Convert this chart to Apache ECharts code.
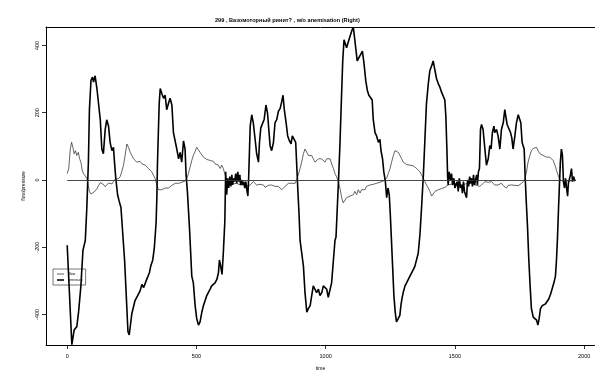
<!DOCTYPE html>
<html>
<head>
<meta charset="utf-8">
<script src="https://cdn.jsdelivr.net/npm/echarts/dist/echarts.min.js"></script>
<style>
  html, body { margin: 0; padding: 0; background: #fff; }
  #chart { width: 595px; height: 376px; }
</style>
</head>
<body>
<div id="chart"></div>
<script>
// [time, value]
const pressure = [
  [0,-194],[18,-490],[27,-446],[37,-437],[44,-393],[53,-315],[61,-209],[70,-180],[76,-82],[82,53],
  [86,209],[92,296],[98,306],[102,291],[108,310],[115,272],[121,267],[128,179],[134,92],[140,78],
  [147,150],[153,179],[160,160],[166,112],[173,87],[179,97],[183,53],[188,5],[195,-44],[201,-63],
  [208,-82],[215,-160],[222,-238],[228,-335],[235,-451],[240,-461],[250,-398],[262,-360],[269,-349],[282,-330],
  [289,-311],[296,-320],[305,-301],[318,-276],[323,-257],[331,-238],[337,-203],[344,-126],[347,-49],[349,40],
  [353,150],[356,228],[360,272],[366,257],[373,243],[379,252],[385,209],[392,228],[398,243],[405,223],
  [411,141],[418,141],[424,92],[431,63],[437,82],[443,53],[450,116],[456,92],[460,15],[465,-34],
  [473,-141],[482,-286],[488,-306],[495,-374],[501,-412],[508,-432],[514,-422],[521,-393],[527,-374],[533,-369],
  [540,-344],[546,-335],[553,-325],[559,-315],[566,-320],[572,-306],[579,-296],[585,-277],[589,-238],[594,-257],
  [599,-281],[604,-218],[610,-121],[613,24],[617,-44],[621,5],[625,-24],[629,10],[633,-19],[637,15],
  [640,-15],[644,5],[648,-5],[652,19],[656,-10],[660,24],[664,-5],[668,15],[671,-15],[675,0],
  [679,-15],[683,-5],[687,-24],[691,-5],[695,-29],[699,-48],[702,5],[708,160],[714,194],[720,170],
  [727,121],[733,78],[740,53],[744,112],[749,155],[755,150],[762,180],[769,223],[775,199],[780,150],
  [785,102],[791,87],[798,112],[804,170],[811,180],[817,204],[824,213],[830,233],[835,252],[840,209],
  [847,170],[853,131],[860,116],[866,107],[871,131],[878,136],[884,112],[888,44],[892,-24],[897,-102],
  [901,-180],[907,-184],[914,-257],[920,-335],[927,-393],[933,-383],[940,-374],[946,-344],[952,-315],[959,-310],
  [965,-335],[972,-325],[978,-344],[985,-335],[991,-315],[998,-310],[1004,-325],[1010,-349],[1017,-344],[1023,-306],
  [1030,-238],[1036,-180],[1040,-170],[1045,-82],[1050,5],[1055,102],[1060,218],[1066,354],[1071,417],[1076,422],
  [1081,393],[1088,412],[1094,427],[1102,446],[1107,454],[1112,422],[1117,388],[1122,354],[1129,349],[1135,373],
  [1142,383],[1148,349],[1155,296],[1161,267],[1167,252],[1174,257],[1180,238],[1184,180],[1191,141],[1197,131],
  [1204,112],[1210,121],[1214,87],[1220,63],[1225,24],[1231,-5],[1236,-53],[1241,-24],[1246,-44],[1250,-102],
  [1254,-170],[1259,-257],[1264,-344],[1269,-393],[1274,-422],[1281,-412],[1287,-403],[1291,-374],[1295,-354],[1300,-335],
  [1307,-315],[1313,-306],[1320,-301],[1326,-286],[1332,-281],[1339,-267],[1345,-257],[1352,-252],[1358,-218],[1365,-160],
  [1371,-82],[1378,15],[1384,121],[1390,228],[1397,286],[1403,325],[1410,340],[1416,354],[1423,325],[1429,301],
  [1436,286],[1442,276],[1448,262],[1455,257],[1461,238],[1465,189],[1469,92],[1472,5],[1474,-15],[1478,24],
  [1483,0],[1487,19],[1491,-15],[1496,5],[1500,-24],[1504,-24],[1509,-5],[1513,-34],[1517,5],[1522,-24],
  [1526,-15],[1529,-39],[1533,-5],[1537,-34],[1541,-44],[1545,-53],[1549,0],[1553,-19],[1557,10],[1560,-10],
  [1564,5],[1568,-19],[1572,15],[1576,-15],[1580,0],[1584,15],[1587,-15],[1591,24],[1595,34],[1599,150],
  [1603,165],[1609,150],[1616,92],[1622,44],[1629,63],[1635,102],[1640,92],[1645,141],[1651,160],[1654,141],
  [1661,150],[1667,131],[1674,92],[1680,150],[1687,170],[1693,209],[1697,189],[1702,165],[1709,160],[1715,141],
  [1720,126],[1725,92],[1732,131],[1738,170],[1745,194],[1750,199],[1755,170],[1760,112],[1764,102],[1768,92],
  [1772,5],[1776,-63],[1781,-141],[1786,-238],[1791,-315],[1796,-383],[1803,-408],[1809,-403],[1816,-417],[1821,-432],
  [1826,-412],[1831,-383],[1838,-374],[1844,-379],[1850,-369],[1857,-374],[1863,-354],[1870,-340],[1876,-345],[1883,-306],
  [1889,-286],[1893,-238],[1897,-170],[1901,-82],[1905,-5],[1908,53],[1912,92],[1916,73],[1920,-5],[1924,-24],
  [1928,5],[1932,-24],[1936,-48],[1939,-10],[1943,-5],[1947,15],[1951,34],[1955,-5],[1959,10],[1963,0],[1966,-3]
];

const flow = [
  [0,19],[6,34],[12,92],[17,112],[22,97],[27,78],[32,87],[37,73],[43,82],[48,63],
  [53,53],[58,29],[63,19],[70,15],[76,5],[81,-15],[86,-34],[92,-42],[99,-40],[107,-34],
  [115,-26],[121,-17],[128,-8],[134,-5],[140,-13],[147,-20],[153,-16],[160,-9],[166,-5],[173,-12],
  [179,-5],[186,3],[192,2],[199,4],[205,10],[211,24],[218,44],[224,73],[231,107],[237,97],
  [244,82],[250,73],[257,63],[263,58],[269,53],[276,53],[282,55],[289,48],[295,53],[302,44],
  [308,39],[315,34],[321,29],[327,24],[334,19],[340,5],[347,-15],[353,-29],[360,-34],[366,-29],
  [373,-32],[379,-24],[385,-29],[392,-24],[398,-19],[405,-16],[411,-15],[418,-10],[424,-7],[431,-10],
  [437,-5],[443,-7],[450,-5],[456,-3],[463,5],[469,19],[476,40],[482,58],[488,73],[495,85],
  [501,97],[508,92],[514,82],[521,78],[527,68],[533,63],[540,61],[546,58],[553,58],[559,53],
  [566,55],[572,48],[579,48],[585,44],[592,34],[598,44],[604,34],[611,15],[617,0],[625,-8],
  [640,-12],[655,-10],[670,-15],[685,-12],[700,-18],[708,-15],[714,-10],[720,-5],[727,-10],[733,-15],
  [740,-19],[746,-13],[753,-10],[759,-15],[766,-22],[772,-24],[778,-16],[785,-13],[791,-15],[798,-19],
  [804,-19],[811,-15],[817,-19],[824,-24],[830,-29],[836,-24],[843,-19],[849,-15],[856,-10],[862,-13],
  [869,-10],[875,-12],[882,-10],[888,0],[894,15],[901,34],[907,53],[914,78],[920,92],[927,82],
  [933,73],[940,68],[946,73],[952,63],[959,53],[965,58],[972,63],[978,68],[984,63],[991,58],
  [997,53],[1004,63],[1010,68],[1017,63],[1023,48],[1030,34],[1036,19],[1042,10],[1049,-5],[1055,-24],
  [1062,-53],[1068,-68],[1075,-63],[1081,-53],[1088,-58],[1094,-48],[1100,-53],[1107,-44],[1113,-34],[1120,-44],
  [1126,-29],[1133,-39],[1139,-29],[1146,-24],[1152,-29],[1158,-19],[1165,-22],[1171,-15],[1178,-19],[1184,-13],
  [1191,-15],[1197,-10],[1204,-12],[1210,-7],[1216,-5],[1223,-3],[1229,-1],[1236,5],[1242,19],[1249,34],
  [1255,53],[1262,73],[1268,87],[1274,92],[1281,82],[1287,78],[1294,63],[1300,53],[1307,48],[1313,46],
  [1320,48],[1326,44],[1332,46],[1339,42],[1345,39],[1352,34],[1358,29],[1365,24],[1371,15],[1378,5],
  [1384,-5],[1390,-15],[1397,-24],[1403,-34],[1410,-48],[1416,-44],[1423,-34],[1429,-29],[1436,-29],[1442,-24],
  [1448,-26],[1455,-24],[1461,-22],[1468,-21],[1474,-15],[1481,-10],[1500,-10],[1520,-15],[1540,-12],[1560,-10],
  [1580,-15],[1595,-19],[1603,-15],[1609,-10],[1616,-5],[1622,-3],[1629,-7],[1635,-10],[1642,-5],[1648,-10],
  [1654,-15],[1661,-12],[1667,-15],[1674,-13],[1680,-10],[1687,-17],[1693,-21],[1700,-24],[1706,-16],[1712,-19],
  [1719,-15],[1725,-17],[1732,-16],[1738,-15],[1745,-17],[1751,-13],[1758,-10],[1764,-5],[1770,0],[1777,24],
  [1783,53],[1790,73],[1796,87],[1803,94],[1809,92],[1816,97],[1822,87],[1829,78],[1835,75],[1841,73],
  [1848,73],[1854,68],[1861,70],[1867,68],[1874,63],[1880,58],[1887,44],[1893,29],[1899,15],[1906,0],
  [1920,-4],[1940,-3],[1966,-2]
];

const xTicks = [0, 500, 1000, 1500, 2000];
const yTicks = [-400, -200, 0, 200, 400];
const zeroLine = [0, 1966];

const font = '"Liberation Sans", Arial, Helvetica, sans-serif';
const frame = { show: true, onZero: false, lineStyle: { color: '#000', width: 1 } };
const chart = echarts.init(document.getElementById('chart'));

chart.setOption({
  animation: false,
  backgroundColor: '#fff',
  title: {
    text: '299 , Вазомоторный ринит? , w/o anemisation (Right)',
    left: 210,
    top: 12,
    textStyle: { fontFamily: font, fontSize: 5.6, fontWeight: 'bold', color: '#000' }
  },
  legend: {
    orient: 'vertical',
    left: 53,
    top: 269,
    itemWidth: 7,
    itemHeight: 3,
    itemGap: 2,
    padding: [3, 3, 3, 4],
    borderColor: '#555',
    borderWidth: 0.8,
    textStyle: { fontFamily: font, fontSize: 3.5, color: '#000' },
    data: [
      { name: 'flow', icon: 'path://M0,0H10V1H0Z', itemStyle: { color: '#222' } },
      { name: 'pressure', icon: 'path://M0,0H10V2.2H0Z', itemStyle: { color: '#000' } }
    ]
  },
  grid: { left: 46, top: 27, right: -1, bottom: 24 },
  xAxis: [
    {
      type: 'value',
      min: -82, max: 2042,
      name: 'time',
      nameLocation: 'middle',
      nameGap: 21,
      nameTextStyle: { fontFamily: font, fontSize: 5, color: '#000' },
      splitLine: { show: false },
      axisLine: frame,
      axisTick: { show: true, length: 4, lineStyle: { color: '#000', width: 0.8 }, customValues: xTicks },
      axisLabel: {
        fontFamily: font, fontSize: 5.5, color: '#000', margin: 8,
        customValues: xTicks, formatter: v => String(v)
      }
    },
    {
      type: 'value',
      position: 'top',
      min: -82, max: 2042,
      splitLine: { show: false },
      axisLine: frame,
      axisTick: { show: false },
      axisLabel: { show: false }
    }
  ],
  yAxis: {
    type: 'value',
    min: -491, max: 455,
    name: 'flow/pressure',
    nameLocation: 'middle',
    nameRotate: 90,
    nameGap: 16,
    nameTextStyle: { fontFamily: font, fontSize: 5, color: '#000' },
    splitLine: { show: false },
    axisLine: frame,
    axisTick: { show: true, length: 4, lineStyle: { color: '#000', width: 0.8 }, customValues: yTicks },
    axisLabel: {
      fontFamily: font, fontSize: 5.5, color: '#000', margin: 6, rotate: 90,
      customValues: yTicks, formatter: v => String(v)
    }
  },
  series: [
    {
      name: 'flow',
      type: 'line',
      data: flow,
      symbol: 'none',
      z: 3,
      lineStyle: { color: '#222', width: 0.7 },
      itemStyle: { color: '#222' },
      markLine: {
        silent: true,
        symbol: 'none',
        label: { show: false },
        lineStyle: { color: '#333', width: 0.9, type: 'solid' },
        data: [[{ coord: [zeroLine[0], 0] }, { coord: [zeroLine[1], 0] }]]
      }
    },
    {
      name: 'pressure',
      type: 'line',
      data: pressure,
      symbol: 'none',
      z: 4,
      lineStyle: { color: '#000', width: 1.6 },
      itemStyle: { color: '#000' }
    }
  ]
});
</script>
</body>
</html>
